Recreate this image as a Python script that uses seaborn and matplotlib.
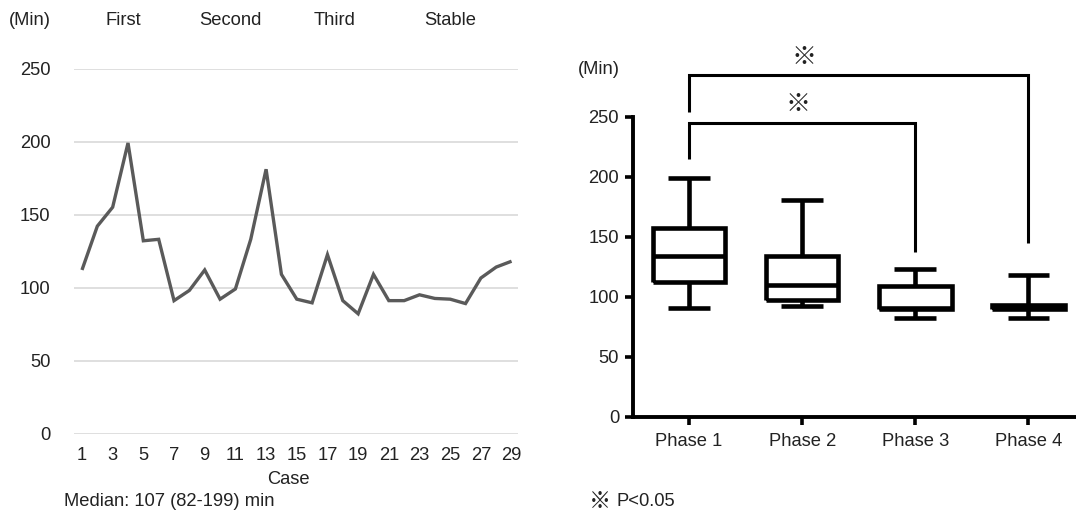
import matplotlib
matplotlib.use("Agg")
import matplotlib.pyplot as plt
import seaborn as sns
import pandas as pd

# ---------------- data ----------------
cases = list(range(1, 30))
op_time = [112, 142, 155, 199, 132, 133, 91, 98, 112, 92, 99, 133, 181, 109, 92,
           89.5, 122.5, 91, 82, 109, 91, 91, 95, 92.5, 92, 89, 106.5, 114, 118]
case_ticks = list(range(1, 30, 2))
y_ticks = [0, 50, 100, 150, 200, 250]
stage_labels = ["First", "Second", "Third", "Stable"]

phases = ["Phase 1", "Phase 2", "Phase 3", "Phase 4"]
# five-number summaries (min, Q1, median, Q3, max)
phase1_summary = [91, 112, 134, 157, 199]
phase2_summary = [92, 97.5, 110, 134, 181]
phase3_summary = [82.5, 90, 91, 109, 123]
phase4_summary = [82.5, 90, 91.5, 93.5, 118.5]

# significance brackets: (left phase, right phase, left foot, top, right foot)
bracket_long = (0, 3, 254, 284.7, 144.5)
bracket_short = (0, 2, 215, 244.5, 137.5)

# ---------------- style ----------------
sns.set_theme(style="white")
plt.rcParams["font.family"] = ["Liberation Sans", "Noto Sans CJK JP", "DejaVu Sans"]
plt.rcParams["lines.solid_joinstyle"] = "miter"
plt.rcParams["lines.solid_capstyle"] = "butt"

W, H = 1076, 515
fig = plt.figure(figsize=(W / 100, H / 100), dpi=100)
FS = 13.2
STAR_FS = 18
TXT = "#222222"


def ftext(xp, yp, s, **kw):
    kw.setdefault("va", "center")
    kw.setdefault("fontsize", FS)
    kw.setdefault("color", TXT)
    fig.text(xp / W, 1 - yp / H, s, **kw)


def ax_rect(l, r, t, b):
    return [l / W, 1 - b / H, (r - l) / W, (b - t) / H]


# ---------------- left: line chart ----------------
ax1 = fig.add_axes(ax_rect(74, 518, 68.5, 433.5))
df_line = pd.DataFrame({"Case": cases, "Time": op_time})
sns.lineplot(data=df_line, x="Case", y="Time", ax=ax1, color="#5a5a5a",
             linewidth=2.4)
ax1.set_xlim(0.48, 29.42)
ax1.set_ylim(0, 250)
ax1.set_yticks(y_ticks)
ax1.set_xticks(case_ticks)
ax1.grid(axis="y", color="#d9d9d9", linewidth=1.2)
ax1.grid(axis="x", visible=False)
for sp in ax1.spines.values():
    sp.set_visible(False)
ax1.tick_params(axis="both", length=0, labelsize=FS, labelcolor=TXT)
ax1.tick_params(axis="y", pad=17)
ax1.tick_params(axis="x", pad=10)
ax1.set_ylabel("")
ax1.set_xlabel("Case", fontsize=FS, color=TXT)
ax1.xaxis.label.set_va("center")
ax1.xaxis.set_label_coords((288 - 74) / 444, -(479.5 - 433.5) / 365)

ftext(30, 20.5, "(Min)", ha="center")
for xp, lab in zip([123, 230, 335, 450], stage_labels):
    ftext(xp, 20.5, lab, ha="center")
ftext(64, 502, "Median: 107 (82-199) min", ha="left")

# ---------------- right: box plot ----------------
ax2 = fig.add_axes(ax_rect(633, 1076, 116.7, 416.7))
summaries = [phase1_summary, phase2_summary, phase3_summary, phase4_summary]
df_box = pd.DataFrame({
    "Phase": [p for p, s in zip(phases, summaries) for _ in s],
    "Time": [v for s in summaries for v in s],
})
sns.boxplot(data=df_box, x="Phase", y="Time", order=phases, ax=ax2,
            whis=(0, 100), width=0.64, fill=False, color="black",
            linecolor="black", linewidth=3.3, capwidths=0.37)
ax2.set_xlim(-0.495, 3.42)
ax2.set_ylim(0, 250)
ax2.set_yticks(y_ticks)
ax2.set_xlabel("")
ax2.set_ylabel("")
for side in ["top", "right"]:
    ax2.spines[side].set_visible(False)
for side in ["left", "bottom"]:
    ax2.spines[side].set_linewidth(2.8)
    ax2.spines[side].set_color("black")
ax2.tick_params(axis="both", direction="out", length=6, width=2.6,
                color="black", labelsize=FS, labelcolor=TXT, bottom=True, left=True)
ax2.tick_params(axis="y", pad=4)
ax2.tick_params(axis="x", pad=6)

for (x0, x1, y0, ytop, y1), star_y, star_x in [(bracket_long, 299.5, 1.02),
                                               (bracket_short, 260.7, 0.96)]:
    ax2.plot([x0, x0, x1, x1], [y0, ytop, ytop, y1], color="black",
             linewidth=2.2, clip_on=False)
    ax2.text(star_x, star_y, "※", ha="center", va="center", fontsize=STAR_FS,
             color=TXT, family=["Noto Sans CJK JP", "DejaVu Sans"])

ftext(599, 69, "(Min)", ha="center")
ftext(599.5, 501, "※", ha="center", fontsize=16,
      family=["Noto Sans CJK JP", "DejaVu Sans"])
ftext(617, 501, "P<0.05", ha="left")

fig.savefig("out.png", dpi=100)
